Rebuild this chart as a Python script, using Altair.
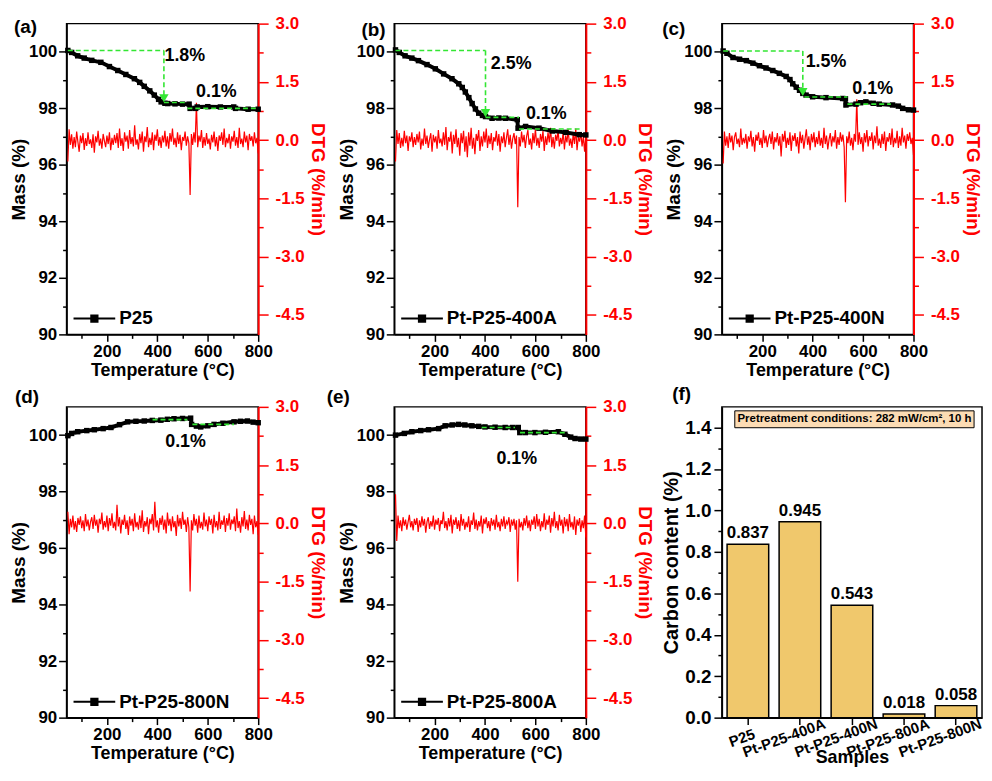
import altair as alt
import pandas as pd

FONT = "Liberation Sans"
GREEN = "#33E633"
RED = "#FF0000"
BAR_FILL = "#F0C86C"
BOX_FILL = "#FCDCB4"

# ---------------- shared sampling grid for DTG traces ----------------
DTG_TEMPS = list(range(45, 801, 5))

# ---------------- panel (a) P25 ----------------
A_NAME = "P25"
A_T = [45, 60, 84, 110, 140, 176, 210, 243, 275, 309, 330, 348, 370, 388, 405, 415,
       430, 441, 470, 500, 526, 530, 552, 558, 600, 650, 703, 710, 760, 800]
A_M = [100.05, 99.98, 99.86, 99.78, 99.70, 99.63, 99.48, 99.34, 99.20, 99.05, 98.92,
       98.78, 98.62, 98.47, 98.32, 98.23, 98.18, 98.17, 98.16, 98.15, 98.15, 98.00,
       98.00, 98.05, 98.06, 98.05, 98.05, 98.00, 97.97, 97.97]
A_DTG = [-0.55, 0.28, -0.12, 0.15, -0.22, 0.08, -0.18, 0.22, -0.05, -0.3, 0.12, -0.08, 0.18, -0.25, 0.05, -0.15, 0.2, -0.1, 0.02,
         -0.2, 0.15, -0.32, 0.1, -0.06, 0.24, -0.14, 0.04, -0.22, 0.16, -0.02, -0.18, 0.12, -0.1, 0.2, -0.26, 0.06, -0.12, 0.14,
         -0.08, 0.18, -0.2, 0.3, -0.15, 0.05, -0.28, 0.2, -0.04, 0.12, -0.22, 0.26, -0.1, 0.08, -0.16, 0.38, -0.12, 0.02, -0.24,
         0.16, -0.08, 0.22, -0.3, 0.1, -0.05, 0.34, -0.18, 0.06, -0.12, 0.2, -0.26, 0.14, -0.02, 0.28, -0.14, 0.08, -0.2, 0.12,
         -0.06, 0.24, -0.16, 0.1, -0.22, 0.18, -0.04, 0.3, -0.12, 0.06, -0.18, 0.2, -0.1, 0.14, -0.26, 0.08, -0.02, 0.22, -0.14,
         0.1, -0.08, -1.41, 0.16, -0.12, 0.2, -0.06, 0.96, -0.18, 0.12, -0.04, 0.26, -0.2, 0.08, -0.14, 0.18, -0.1, 0.04, -0.24,
         0.14, -0.06, 0.22, -0.16, 0.08, -0.28, 0.12, -0.02, 0.2, -0.12, 0.3, -0.18, 0.06, -0.08, 0.16, -0.22, 0.1, -0.04, 0.24,
         -0.14, 0.08, -0.2, 0.32, -0.1, 0.04, -0.18, 0.22, -0.06, 0.12, -0.26, 0.16, -0.02, 0.1, -0.16, 0.2, -0.08, 0.06, -0.34]
A_GX1 = [45, 426, 426, 519]
A_GX2 = [426, 426, 519, 797]
A_GY1 = [100.05, 100.05, 98.21, 98.00]
A_GY2 = [100.05, 98.45, 98.21, 98.00]
A_ARX = [426]
A_ARY = [98.36]
A_LBL = ["1.8%", "0.1%"]
A_LBX = [509, 634]
A_LBY = [99.86, 98.58]

# ---------------- panel (b) Pt-P25-400A ----------------
B_NAME = "Pt-P25-400A"
B_T = [45, 60, 83, 110, 136, 170, 203, 236, 269, 296, 310, 322, 336, 349, 362, 375,
       390, 402, 428, 455, 481, 528, 531, 561, 614, 667, 720, 774, 800]
B_M = [100.07, 99.98, 99.86, 99.78, 99.69, 99.55, 99.40, 99.22, 99.05, 98.87, 98.74,
       98.58, 98.38, 98.17, 97.98, 97.83, 97.75, 97.71, 97.65, 97.66, 97.65, 97.60,
       97.30, 97.36, 97.30, 97.20, 97.15, 97.07, 97.06]
B_DTG = [-0.55, 0.26, -0.1, 0.18, -0.2, 0.06, -0.16, 0.24, -0.08, 0.12, -0.28, 0.1, -0.04, 0.2, -0.18, 0.08, -0.12, 0.16, -0.06,
         0.22, -0.24, 0.04, -0.14, 0.3, -0.1, 0.12, -0.2, 0.02, 0.18, -0.3, 0.14, -0.06, 0.1, -0.22, 0.26, -0.08, 0.04, -0.16,
         0.2, -0.12, 0.34, -0.26, 0.08, -0.04, 0.22, -0.34, 0.14, -0.1, 0.28, -0.18, 0.06, -0.4, 0.18, -0.08, 0.24, -0.3, 0.1,
         -0.44, 0.2, -0.14, 0.32, -0.22, 0.06, -0.36, 0.16, -0.02, 0.26, -0.28, 0.1, -0.16, 0.22, -0.06, 0.3, -0.2, 0.12, -0.1,
         0.18, -0.26, 0.08, -0.04, 0.24, -0.14, 0.16, -0.3, 0.1, -0.08, 0.2, -0.18, 0.06, 0.28, -0.12, 0.14, -0.22, 0.04, 0.18,
         -0.1, 0.12, -1.73, 0.08, -0.16, 0.22, -0.06, 0.14, -0.2, 0.1, 0.26, -0.12, 0.04, -0.24, 0.18, -0.08, 0.3, -0.14, 0.06,
         -0.2, 0.16, -0.04, 0.24, -0.28, 0.1, -0.12, 0.2, -0.06, 0.32, -0.18, 0.08, -0.22, 0.14, -0.02, 0.26, -0.16, 0.06, -0.1,
         0.22, -0.24, 0.12, -0.06, 0.28, -0.14, 0.04, -0.2, 0.18, -0.1, 0.3, -0.26, 0.08, -0.04, 0.2, -0.16, 0.1, -0.3, 0.14]
B_GX1 = [45, 402, 402, 535]
B_GX2 = [402, 402, 535, 787]
B_GY1 = [100.05, 100.05, 97.68, 97.27]
B_GY2 = [100.05, 97.92, 97.68, 97.27]
B_ARX = [402]
B_ARY = [97.83]
B_LBL = ["2.5%", "0.1%"]
B_LBX = [504, 643]
B_LBY = [99.57, 97.80]

# ---------------- panel (c) Pt-P25-400N ----------------
C_NAME = "Pt-P25-400N"
C_T = [45, 60, 84, 110, 137, 163, 189, 215, 242, 268, 295, 310, 321, 335, 348, 361,
       374, 400, 453, 519, 530, 532, 572, 590, 611, 640, 664, 717, 740, 757, 780, 800]
C_M = [100.03, 99.95, 99.80, 99.74, 99.69, 99.60, 99.51, 99.43, 99.34, 99.24, 99.13,
       99.02, 98.87, 98.75, 98.64, 98.53, 98.47, 98.41, 98.38, 98.35, 98.34, 98.12,
       98.15, 98.20, 98.23, 98.18, 98.15, 98.12, 98.08, 98.00, 97.95, 97.94]
C_DTG = [-0.6, 0.22, -0.14, 0.1, -0.2, 0.18, -0.06, 0.12, -0.26, 0.08, 0.2, -0.1, 0.04, -0.18, 0.3, -0.12, 0.06, -0.08, 0.16,
         -0.22, 0.1, -0.04, 0.24, -0.16, 0.08, -0.3, 0.14, -0.02, 0.2, -0.12, 0.06, -0.2, 0.26, -0.08, 0.12, -0.18, 0.04, 0.16,
         -0.1, 0.22, -0.24, 0.08, -0.06, 0.18, -0.14, 0.1, -0.42, 0.16, -0.04, 0.24, -0.2, 0.06, -0.12, 0.2, -0.28, 0.12, -0.02,
         0.18, -0.16, 0.08, -0.34, 0.22, -0.08, 0.14, -0.22, 0.04, 0.28, -0.12, 0.1, -0.26, 0.16, -0.06, 0.2, -0.18, 0.08, -0.1,
         0.24, -0.14, 0.06, -0.2, 0.32, -0.1, 0.12, -0.24, 0.02, 0.18, -0.16, 0.1, -0.06, 0.26, -0.22, 0.08, -0.12, 0.2, -0.04,
         0.14, -0.18, -1.6, 0.1, -0.08, 0.22, -0.14, 0.06, -0.26, 0.16, -0.04, 1.05, -0.12, 0.2, -0.1, 0.08, -0.3, 0.18, -0.06,
         0.26, -0.16, 0.1, -0.02, 0.2, -0.24, 0.12, -0.08, 0.36, -0.14, 0.04, -0.2, 0.16, -0.1, 0.22, -0.28, 0.08, -0.04, 0.18,
         -0.12, 0.3, -0.18, 0.06, -0.08, 0.24, -0.2, 0.1, -0.14, 0.32, -0.06, 0.12, -0.22, 0.16, -0.02, 0.2, -0.1, 0.06, -0.38]
C_GX1 = [45, 361, 367, 538]
C_GX2 = [361, 361, 538, 710]
C_GY1 = [100.03, 100.03, 98.40, 98.15]
C_GY2 = [100.03, 98.65, 98.40, 98.15]
C_ARX = [361]
C_ARY = [98.58]
C_LBL = ["1.5%", "0.1%"]
C_LBX = [453, 638]
C_LBY = [99.63, 98.70]

# ---------------- panel (d) Pt-P25-800N ----------------
D_NAME = "Pt-P25-800N"
D_T = [45, 60, 84, 120, 150, 185, 216, 250, 282, 315, 348, 380, 414, 440, 466, 500,
       532, 536, 555, 572, 600, 625, 660, 704, 730, 757, 780, 800]
D_M = [99.98, 100.06, 100.12, 100.16, 100.19, 100.23, 100.27, 100.37, 100.47, 100.49,
       100.50, 100.52, 100.53, 100.56, 100.58, 100.59, 100.60, 100.38, 100.32, 100.29,
       100.33, 100.38, 100.42, 100.47, 100.49, 100.50, 100.46, 100.44]
D_DTG = [0.3, -0.28, 0.12, -0.1, 0.2, -0.16, 0.06, -0.22, 0.14, -0.04, 0.18, -0.12, 0.08, -0.2, 0.24, -0.08, 0.1, -0.18, 0.04,
         0.16, -0.14, 0.22, -0.06, 0.1, -0.24, 0.12, -0.02, 0.28, -0.16, 0.06, -0.1, 0.2, -0.2, 0.14, -0.06, 0.26, -0.12, 0.04,
         -0.18, 0.48, -0.08, 0.16, -0.26, 0.1, -0.04, 0.22, -0.14, 0.08, -0.3, 0.18, -0.06, 0.12, -0.2, 0.26, -0.1, 0.04, -0.16,
         0.2, -0.12, 0.34, -0.22, 0.06, -0.08, 0.16, -0.28, 0.12, -0.02, 0.24, -0.18, 0.56, -0.1, 0.08, -0.24, 0.14, -0.04, 0.2,
         -0.16, 0.1, -0.26, 0.28, -0.06, 0.12, -0.2, 0.18, -0.1, 0.06, -0.32, 0.22, -0.08, 0.14, -0.14, 0.3, -0.04, 0.1, -0.22,
         0.16, -0.1, -1.75, 0.08, -0.18, 0.24, -0.06, 0.12, -0.24, 0.2, -0.12, 0.04, -0.16, 0.28, -0.08, 0.1, -0.2, 0.18, -0.04,
         0.12, -0.26, 0.22, -0.1, 0.06, -0.18, 0.3, -0.14, 0.08, -0.04, 0.2, -0.22, 0.14, -0.06, 0.26, -0.16, 0.1, -0.02, 0.18,
         -0.2, 0.38, -0.12, 0.06, -0.24, 0.16, -0.08, 0.32, -0.14, 0.1, -0.18, 0.22, -0.04, 0.12, -0.28, 0.2, -0.1, 0.06, -0.3]
D_GX1 = [381, 539]
D_GX2 = [519, 704]
D_GY1 = [100.55, 100.38]
D_GY2 = [100.55, 100.38]
D_ARX = []
D_ARY = []
D_LBL = ["0.1%"]
D_LBX = [512]
D_LBY = [99.74]

# ---------------- panel (e) Pt-P25-800A ----------------
E_NAME = "Pt-P25-800A"
E_T = [45, 80, 110, 145, 176, 216, 242, 270, 295, 320, 348, 375, 400, 440, 480, 510,
       532, 538, 560, 598, 640, 691, 717, 740, 757, 780, 800]
E_M = [100.00, 100.06, 100.12, 100.16, 100.19, 100.23, 100.33, 100.36, 100.38, 100.36,
       100.33, 100.31, 100.29, 100.28, 100.27, 100.27, 100.27, 100.09, 100.09, 100.09,
       100.10, 100.12, 100.03, 99.93, 99.88, 99.86, 99.86]
E_DTG = [0.75, -0.45, 0.2, -0.12, 0.08, -0.2, 0.16, -0.06, 0.1, -0.16, 0.04, 0.22, -0.1, 0.06, -0.18, 0.12, -0.04, 0.14, -0.22,
         0.08, -0.1, 0.18, -0.06, 0.12, -0.24, 0.04, 0.16, -0.14, 0.06, -0.08, 0.2, -0.16, 0.1, -0.04, 0.14, -0.2, 0.08, -0.02,
         0.3, -0.12, 0.06, -0.18, 0.14, -0.08, 0.22, -0.26, 0.1, -0.04, 0.16, -0.14, 0.08, -0.2, 0.24, -0.06, 0.12, -0.16, 0.04,
         -0.1, 0.18, -0.22, 0.08, -0.04, 0.28, -0.14, 0.1, -0.18, 0.06, -0.08, 0.2, -0.26, 0.12, -0.02, 0.16, -0.12, 0.06, -0.2,
         0.14, -0.06, 0.1, -0.16, 0.22, -0.1, 0.04, -0.2, 0.12, -0.08, 0.18, -0.14, 0.06, -0.02, 0.16, -0.22, 0.1, -0.06, 0.12,
         -0.16, 0.08, -1.5, 0.12, -0.1, 0.04, -0.18, 0.14, -0.06, 0.2, -0.12, 0.08, -0.2, 0.1, -0.04, 0.18, -0.14, 0.24, -0.08,
         0.12, -0.2, 0.06, -0.1, 0.26, -0.16, 0.1, -0.04, 0.2, -0.24, 0.14, -0.08, 0.3, -0.12, 0.06, -0.18, 0.22, -0.06, 0.1,
         -0.26, 0.16, -0.08, 0.12, -0.2, 0.24, -0.1, 0.04, -0.16, 0.18, -0.3, 0.1, -0.06, 0.14, -0.22, 0.08, -0.12, 0.2, -0.36]
E_GX1 = [387, 539]
E_GX2 = [519, 717]
E_GY1 = [100.27, 100.09]
E_GY2 = [100.27, 100.09]
E_ARX = []
E_ARY = []
E_LBL = ["0.1%"]
E_LBX = [526]
E_LBY = [99.16]

# ---------------- panel (f) carbon content ----------------
SAMPLES = ["P25", "Pt-P25-400A", "Pt-P25-400N", "Pt-P25-800A", "Pt-P25-800N"]
CARBON = [0.837, 0.945, 0.543, 0.018, 0.058]
BOX_TEXT = ["Pretreatment conditions: 282 mW/cm\u00b2, 10 h"]

# ---------------- tick values ----------------
X_TICKS = [100, 200, 300, 400, 500, 600, 700, 800]
MASS_TICKS = [90, 91, 92, 93, 94, 95, 96, 97, 98, 99, 100]
DTG_TICKS = [-4.5, -3.75, -3.0, -2.25, -1.5, -0.75, 0.0, 0.75, 1.5, 2.25, 3.0]
CARBON_TICKS = [0.0, 0.1, 0.2, 0.3, 0.4, 0.5, 0.6, 0.7, 0.8, 0.9, 1.0, 1.1, 1.2, 1.3, 1.4]

LEGEND_PATH = "M-1,0L1,0M-0.15,-0.15L0.15,-0.15L0.15,0.15L-0.15,0.15Z"
W, H = 193, 313
WF = 262


def cond_num(test, when_true, otherwise):
    return {"condition": {"test": test, "value": when_true}, "value": otherwise}


def tga_panel(tag, tag_x, tag_y, name, t, m, dtg, gx1, gx2, gy1, gy2, arx, ary, lbl, lbx, lby):
    xs = alt.Scale(domain=[40, 800], nice=False, zero=False)
    ys = alt.Scale(domain=[90, 101], nice=False, zero=False)
    ds = alt.Scale(domain=[-5, 3], nice=False, zero=False)

    x_axis = alt.Axis(title="Temperature (\u00b0C)", values=X_TICKS,
                      labelExpr="datum.value % 200 == 0 ? datum.label : ''",
                      tickSize=cond_num("datum.value % 200 != 0", 4, 7),
                      labelPadding=2, titlePadding=2, titleFontSize=18,
                      labelFlush=False, labelOverlap=False)
    m_axis = alt.Axis(title="Mass (%)", orient="left", values=MASS_TICKS,
                      labelExpr="datum.value % 2 == 0 ? datum.label : ''",
                      tickSize=cond_num("datum.value % 2 != 0", 4, 8),
                      labelPadding=2, titlePadding=0, labelFlush=False, labelOverlap=False)
    d_axis = alt.Axis(title="DTG (%/min)", orient="right", values=DTG_TICKS,
                      labelExpr="abs(datum.value/1.5 - round(datum.value/1.5)) > 0.1 ? '' : "
                                "(datum.value < 0 ? '-' : '') + format(abs(datum.value), '.1f')",
                      tickSize=cond_num("abs(datum.value/1.5 - round(datum.value/1.5)) > 0.1", 5, 10),
                      labelPadding=7, titlePadding=3, labelFlush=False, labelOverlap=False,
                      domainColor=RED, tickColor=RED, labelColor=RED, titleColor=RED, domainWidth=2)

    X = lambda f: alt.X(f, scale=xs, axis=x_axis)
    Y = lambda f: alt.Y(f, scale=ys, axis=m_axis)

    dtg_df = pd.DataFrame({"T": DTG_TEMPS[:len(dtg)], "dtg": dtg[:len(DTG_TEMPS)]})
    mass_df = pd.DataFrame({"T": t, "mass": m, "name": [name] * len(t)})
    g_df = pd.DataFrame({"x1": gx1, "x2": gx2, "y1": gy1, "y2": gy2})
    a_df = pd.DataFrame({"x": arx, "y": ary})
    l_df = pd.DataFrame({"x": lbx, "y": lby, "t": lbl})
    tag_df = pd.DataFrame({"t": [tag]})

    dtg_line = alt.Chart(dtg_df).mark_line(color=RED, strokeWidth=1.2).encode(
        x=X("T:Q"),
        y=alt.Y("dtg:Q", scale=ds, axis=d_axis),
    )
    mass_line = alt.Chart(mass_df).mark_line(
        strokeWidth=4, point=alt.OverlayMarkDef(shape="square", size=30, filled=True)
    ).encode(
        x=X("T:Q"),
        y=Y("mass:Q"),
        color=alt.Color("name:N", scale=alt.Scale(domain=[name], range=["black"]),
                        legend=alt.Legend(orient="none", legendX=6, legendY=H - 38, title=None,
                                          symbolType=LEGEND_PATH, symbolSize=1764,
                                          symbolStrokeWidth=2, symbolFillColor="black",
                                          symbolStrokeColor="black", labelFontSize=19,
                                          labelFont=FONT, labelFontWeight="bold",
                                          labelColor="black", labelOffset=3, padding=0)),
    )
    layers = [mass_line]
    layers.append(alt.Chart(g_df).mark_rule(color=GREEN, strokeDash=[5, 3], strokeWidth=1.6).encode(
        x=X("x1:Q"), x2="x2:Q", y=Y("y1:Q"), y2="y2:Q"))
    if len(arx):
        layers.append(alt.Chart(a_df).mark_point(shape="triangle-down", filled=True, color=GREEN,
                                                 size=90, opacity=1).encode(x=X("x:Q"), y=Y("y:Q")))
    layers.append(alt.Chart(l_df).mark_text(font=FONT, fontWeight="bold", fontSize=18, color="black",
                                            align="center", baseline="middle").encode(
        x=X("x:Q"), y=Y("y:Q"), text="t:N"))
    layers.append(alt.Chart(tag_df).mark_text(font=FONT, fontWeight="bold", fontSize=19, color="black",
                                              align="left", baseline="alphabetic").encode(
        x=alt.value(tag_x), y=alt.value(tag_y), text="t:N"))
    left = alt.layer(*layers)
    return alt.layer(dtg_line, left).resolve_scale(y="independent").properties(width=W, height=H)


def bar_panel():
    df = pd.DataFrame({"sample": SAMPLES, "carbon": CARBON})
    xs = alt.Scale(domain=SAMPLES, paddingInner=0.2, paddingOuter=0.1)
    ys = alt.Scale(domain=[0, 1.5], nice=False)
    x_axis = alt.Axis(title="Samples", labelAngle=340, labelAlign="center", labelBaseline="middle",
                      labelFontSize=15, labelPadding=13,
                      labelOffset=cond_num("datum.value == 'P25'", -6, -16), tickSize=7,
                      titleFontSize=18, titleY=31, titleBaseline="top", labelOverlap=False)
    y_axis = alt.Axis(title="Carbon content (%)", values=CARBON_TICKS,
                      labelExpr="round(datum.value*10) % 2 == 0 ? format(datum.value, '.1f') : ''",
                      tickSize=cond_num("round(datum.value*10) % 2 == 1", 4, 8),
                      labelFontSize=19, titleFontSize=20, labelPadding=3, titlePadding=3,
                      labelOverlap=False, labelFlush=False)
    XB = alt.X("sample:N", sort=SAMPLES, scale=xs, axis=x_axis)
    YB = alt.Y("carbon:Q", scale=ys, axis=y_axis)
    bars = alt.Chart(df).mark_bar(fill=BAR_FILL, stroke="black", strokeWidth=1.5).encode(x=XB, y=YB)
    vals = alt.Chart(df).mark_text(font=FONT, fontWeight="bold", fontSize=17, color="black",
                                   baseline="bottom", dy=-2).encode(
        x=XB, y=YB, text=alt.Text("carbon:Q", format=".3f"))
    box_df = pd.DataFrame({"t": BOX_TEXT})
    box = alt.Chart(box_df).mark_rect(fill=BOX_FILL, stroke="black", strokeWidth=1).encode(
        x=alt.value(13), x2=alt.value(254), y=alt.value(4), y2=alt.value(21))
    box_txt = alt.Chart(box_df).mark_text(font=FONT, fontWeight="bold", fontSize=11.5, color="black",
                                          align="center", baseline="middle").encode(
        x=alt.value(133.5), y=alt.value(12.5), text="t:N")
    tag = alt.Chart(pd.DataFrame({"t": ["(f)"]})).mark_text(
        font=FONT, fontWeight="bold", fontSize=19, color="black", align="left",
        baseline="alphabetic").encode(x=alt.value(-50), y=alt.value(-7), text="t:N")
    return alt.layer(bars, vals, box, box_txt, tag).properties(width=WF, height=H)


pa = tga_panel("(a)", -53, 9, A_NAME, A_T, A_M, A_DTG, A_GX1, A_GX2, A_GY1, A_GY2, A_ARX, A_ARY, A_LBL, A_LBX, A_LBY)
pb = tga_panel("(b)", -33, 12, B_NAME, B_T, B_M, B_DTG, B_GX1, B_GX2, B_GY1, B_GY2, B_ARX, B_ARY, B_LBL, B_LBX, B_LBY)
pc = tga_panel("(c)", -60, 11, C_NAME, C_T, C_M, C_DTG, C_GX1, C_GX2, C_GY1, C_GY2, C_ARX, C_ARY, C_LBL, C_LBX, C_LBY)
pd_ = tga_panel("(d)", -52, -4, D_NAME, D_T, D_M, D_DTG, D_GX1, D_GX2, D_GY1, D_GY2, D_ARX, D_ARY, D_LBL, D_LBX, D_LBY)
pe = tga_panel("(e)", -68, -4, E_NAME, E_T, E_M, E_DTG, E_GX1, E_GX2, E_GY1, E_GY2, E_ARX, E_ARY, E_LBL, E_LBX, E_LBY)
pf = bar_panel()

chart = alt.concat(pa, pb, pc, pd_, pe, pf, columns=3, spacing={"row": 73, "column": 137},
                   bounds="flush").resolve_scale(color="independent").resolve_legend(color="independent")

chart = chart.properties(
    padding={"left": 0, "top": 3, "right": 0, "bottom": 0}
).configure_view(
    stroke="black", strokeWidth=1.5
).configure_axis(
    labelFont=FONT, titleFont=FONT, labelFontWeight="bold", titleFontWeight="bold",
    labelFontSize=17, titleFontSize=19, grid=False, domainColor="black", tickColor="black",
    labelColor="black", titleColor="black", domainWidth=1.5, tickWidth=1.5
).configure_text(font=FONT).configure_legend(labelFont=FONT)

chart.save("out.html", embed_options={"renderer": "svg", "actions": False})
